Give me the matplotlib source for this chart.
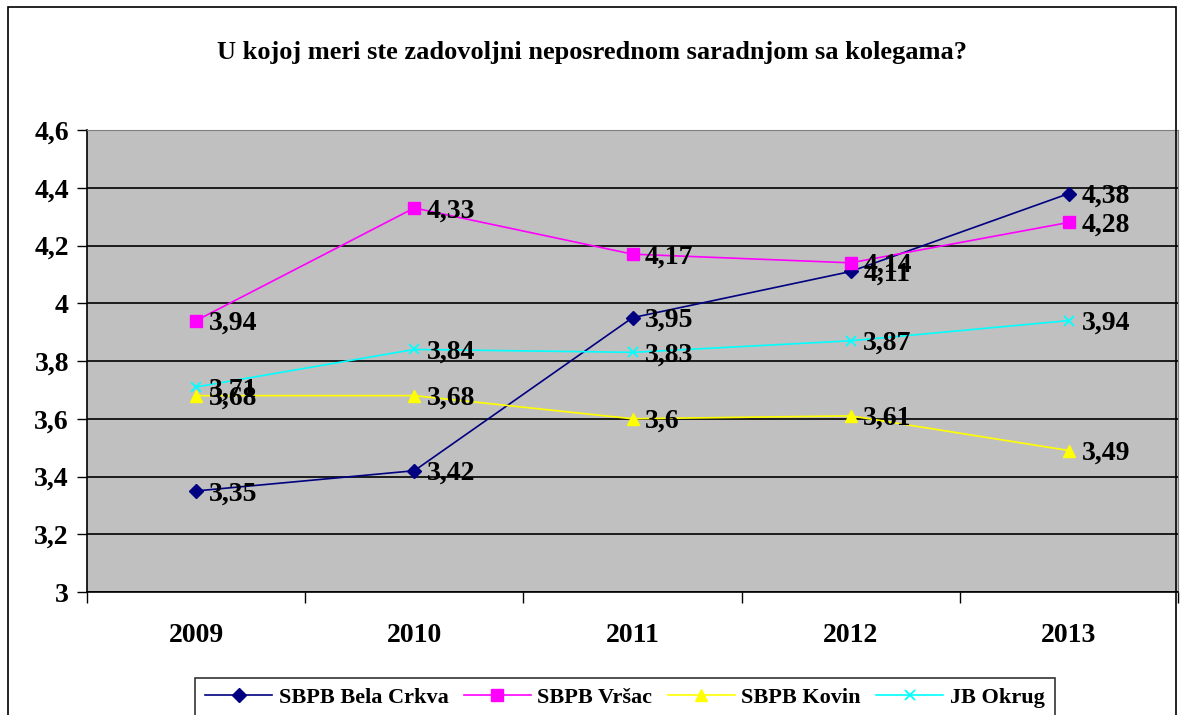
import matplotlib.pyplot as plt
from matplotlib.patches import Rectangle

plt.rcParams['font.family'] = ['Liberation Serif', 'DejaVu Serif']
plt.rcParams['font.weight'] = 'bold'

years = ['2009', '2010', '2011', '2012', '2013']
bela_crkva = [3.35, 3.42, 3.95, 4.11, 4.38]
vrsac = [3.94, 4.33, 4.17, 4.14, 4.28]
kovin = [3.68, 3.68, 3.60, 3.61, 3.49]
jb_okrug = [3.71, 3.84, 3.83, 3.87, 3.94]

series = [
    ('SBPB Bela Crkva', bela_crkva, '#000080', 'D', 7),
    ('SBPB Vršac', vrsac, '#FF00FF', 's', 8),
    ('SBPB Kovin', kovin, '#FFFF00', '^', 9),
    ('JB Okrug', jb_okrug, '#00FFFF', 'x', 7),
]

def fmt(v):
    s = ('%.2f' % v).rstrip('0').rstrip('.')
    return s.replace('.', ',')

fig = plt.figure(figsize=(11.84, 7.15), dpi=100)
fig.patches.append(Rectangle((8 / 1184, -0.01), 1168 / 1184, 1.0, transform=fig.transFigure,
                             fill=False, edgecolor='black', linewidth=1.2))

ax = fig.add_axes([87 / 1184, 1 - 592 / 715, (1178 - 87) / 1184, (592 - 130) / 715])
ax.set_facecolor('#C0C0C0')

x = list(range(1, len(years) + 1))
for name, vals, col, mk, ms in series:
    ax.plot(x, vals, color=col, marker=mk, markersize=ms, linewidth=1.2,
            label=name, markeredgecolor=col, markeredgewidth=1.3 if mk == 'x' else 1)
    for xi, v in zip(x, vals):
        ax.annotate(fmt(v), (xi, v), xytext=(9, -2), textcoords='offset points',
                    fontsize=20, fontweight='bold', va='center', ha='left')

ax.set_xlim(0.5, len(years) + 0.5)
ax.set_ylim(3, 4.6)
ax.set_yticks([3, 3.2, 3.4, 3.6, 3.8, 4, 4.2, 4.4, 4.6])
ax.set_yticklabels(['3', '3,2', '3,4', '3,6', '3,8', '4', '4,2', '4,4', '4,6'],
                   fontsize=20, fontweight='bold')
ax.yaxis.grid(True, color='black', linewidth=1.2)
ax.set_axisbelow(True)

ax.set_xticks(x)
ax.set_xticklabels(years, fontsize=20, fontweight='bold')
ax.set_xticks([i + 0.5 for i in range(0, len(years) + 1)], minor=True)
ax.tick_params(axis='x', which='major', length=0, pad=22)
ax.tick_params(axis='x', which='minor', length=8, direction='out', width=1)
ax.tick_params(axis='y', length=7, direction='out', width=1, pad=6)

for side in ['top', 'right']:
    ax.spines[side].set_color('#808080')
ax.spines['left'].set_linewidth(1.2)
ax.spines['bottom'].set_linewidth(1.2)

fig.text(0.5, 1 - 52 / 715, 'U kojoj meri ste zadovoljni neposrednom saradnjom sa kolegama?',
         ha='center', va='center', fontsize=19, fontweight='bold')

leg = fig.legend(loc='center', bbox_to_anchor=(625 / 1184, 1 - 698 / 715), ncol=4,
                 frameon=True, fancybox=False, edgecolor='black', fontsize=16,
                 handlelength=3.0, columnspacing=0.7, handletextpad=0.3,
                 borderpad=0.45)
leg.get_frame().set_linewidth(1.2)

fig.savefig('out.png', dpi=100)
